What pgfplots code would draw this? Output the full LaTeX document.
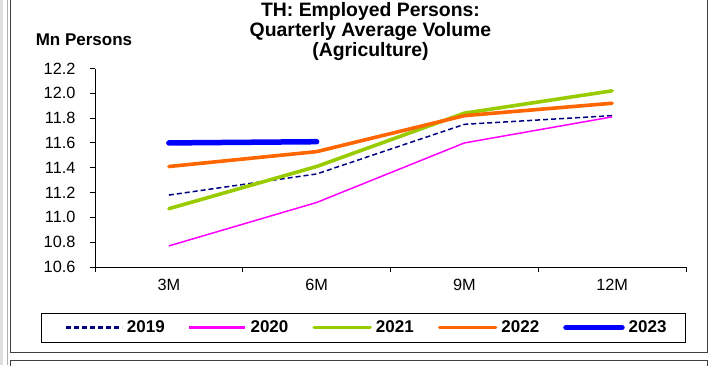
\documentclass[border=0pt]{standalone}
\usepackage{fontspec}
\setmainfont{Liberation Sans}
\usepackage{pgfplots}
\pgfplotsset{compat=1.18}
\definecolor{c19}{HTML}{000080}
\definecolor{c20}{HTML}{FF00FF}
\definecolor{c21}{HTML}{99CC00}
\definecolor{c22}{HTML}{FF6600}
\definecolor{c23}{HTML}{0000FF}
\definecolor{frame}{HTML}{404040}
\tikzset{
    s19/.style={draw=c19, line width=1.5pt, dash pattern=on 5pt off 3pt},
    s20/.style={draw=c20, line width=1.5pt},
    s21/.style={draw=c21, line width=3.6pt, line cap=round},
    s22/.style={draw=c22, line width=3.6pt, line cap=round},
    s23/.style={draw=c23, line width=5.5pt, line cap=round},
}
\pgfplotsset{
    leg/.style={legend image code/.code={
        \path (-7pt,0pt);
        \draw[#1] (0pt,0pt) -- (56pt,0pt);}},
}
\begin{document}
\begin{tikzpicture}
\useasboundingbox (-95pt,-98pt) rectangle (617pt,267pt);
% chart frames
\fill[gray!25] (-95pt,-98pt) rectangle (-92pt,267pt);
\draw[gray!60, line width=0.8pt] (-88pt,-98pt) -- (-88pt,267pt);
\draw[frame, line width=0.8pt] (-85pt,275pt) -- (-85pt,-85pt) -- (612pt,-85pt) -- (612pt,275pt);
\draw[frame, line width=0.8pt] (-85pt,-105pt) -- (-85pt,-93pt) -- (612pt,-93pt) -- (612pt,-105pt);

\begin{axis}[
    at={(0pt,0pt)}, anchor=south west,
    scale only axis,
    width=591pt, height=198.5pt,
    xmin=-0.5, xmax=3.5,
    ymin=10.6, ymax=12.2,
    axis x line*=bottom, axis y line*=left,
    axis line style={black, line width=0.9pt},
    tick style={black, line width=0.9pt},
    tick align=outside,
    major tick length=5pt,
    xtick={-0.5,0.5,1.5,2.5,3.5},
    xticklabels={},
    extra x ticks={0,1,2,3},
    extra x tick labels={3M,6M,9M,12M},
    extra x tick style={major tick length=0pt},
    ytick={10.6,10.8,11.0,11.2,11.4,11.6,11.8,12.0,12.2},
    yticklabel style={/pgf/number format/.cd, fixed, fixed zerofill, precision=1},
    /pgf/number format/assume math mode=true,
    ticklabel style={font=\fontsize{16.3}{18}\selectfont},
    xticklabel shift=9pt,
    yticklabel shift=11pt,
    legend columns=5,
    legend style={
        at={(axis description cs:0.454,-0.305)}, anchor=center,
        draw=black,
        font=\bfseries\fontsize{17}{19}\selectfont,
        inner xsep=17pt, inner ysep=5.5pt,
        /tikz/every odd column/.append style={column sep=2pt},
        /tikz/every even column/.append style={column sep=15pt},
    },
]
\addplot[s19, leg={s19, line width=2.2pt}] coordinates {
    (0,11.18) (1,11.35) (2,11.75) (3,11.82)
};
\addlegendentry{2019}
\addplot[s20, leg={s20, line width=2.2pt}] coordinates {
    (0,10.77) (1,11.12) (2,11.60) (3,11.81)
};
\addlegendentry{2020}
\addplot[s21, leg=s21] coordinates {
    (0,11.07) (1,11.41) (2,11.84) (3,12.02)
};
\addlegendentry{2021}
\addplot[s22, leg=s22] coordinates {
    (0,11.41) (1,11.53) (2,11.82) (3,11.92)
};
\addlegendentry{2022}
\addplot[s23, leg=s23] coordinates {
    (0,11.60) (1,11.61)
};
\addlegendentry{2023}
\end{axis}

\node[anchor=base, font=\bfseries\fontsize{17}{20}\selectfont] at (-11pt,221.3pt) {Mn Persons};
\begin{scope}[every node/.style={anchor=base, font=\bfseries\fontsize{19.4}{21}\selectfont}]
\node at (275.5pt,251pt) {TH: Employed Persons:};
\node at (275.5pt,230.5pt) {Quarterly Average Volume};
\node at (275.5pt,210.5pt) {(Agriculture)};
\end{scope}
\end{tikzpicture}
\end{document}
